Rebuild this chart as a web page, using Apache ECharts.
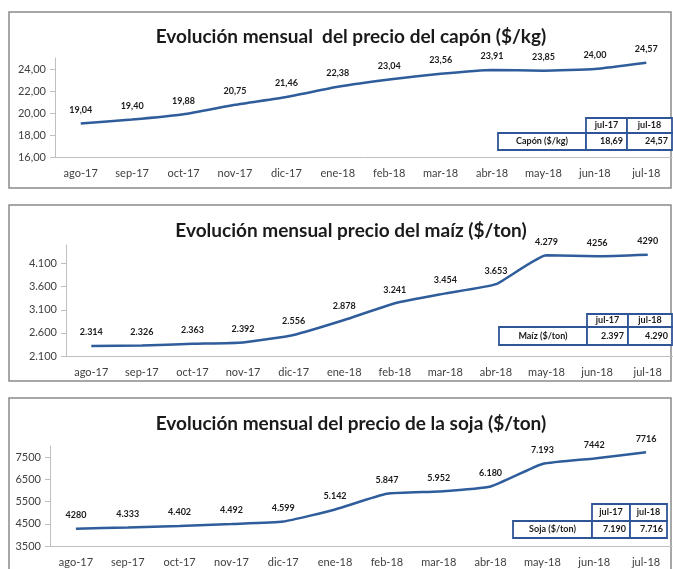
<!DOCTYPE html>
<html>
<head>
<meta charset="utf-8">
<script src="https://cdn.jsdelivr.net/npm/echarts@6/dist/echarts.min.js"></script>
<style>
  html, body { margin: 0; padding: 0; background: #fff; }
  #chart { width: 673px; height: 569px; }
</style>
</head>
<body>
<div id="chart"></div>
<script>
// Months shared by the three panels
const months = ['ago-17', 'sep-17', 'oct-17', 'nov-17', 'dic-17', 'ene-18',
                'feb-18', 'mar-18', 'abr-18', 'may-18', 'jun-18', 'jul-18'];

// Capón ($/kg)
const caponValues = [19.04, 19.40, 19.88, 20.75, 21.46, 22.38, 23.04, 23.56, 23.91, 23.85, 24.00, 24.57];

// Maíz ($/ton)
const maizValues = [2314, 2326, 2363, 2392, 2556, 2878, 3241, 3454, 3653, 4279, 4256, 4290];
const maizLabels = ['2.314', '2.326', '2.363', '2.392', '2.556', '2.878', '3.241', '3.454', '3.653', '4.279', '4256', '4290'];

// Soja ($/ton)
const sojaValues = [4280, 4333, 4402, 4492, 4599, 5142, 5847, 5952, 6180, 7193, 7442, 7716];
const sojaLabels = ['4280', '4.333', '4.402', '4.492', '4.599', '5.142', '5.847', '5.952', '6.180', '7.193', '7442', '7716'];

// Year-on-year summary tables
const tableHeaders = ['jul-17', 'jul-18'];
const caponTable = ['Capón ($/kg)', '18,69', '24,57'];
const maizTable = ['Maíz ($/ton)', '2.397', '4.290'];
const sojaTable = ['Soja ($/ton)', '7.190', '7.716'];

// Panel titles
const titles = [
  'Evolución mensual  del precio del capón ($/kg)',
  'Evolución mensual precio del maíz ($/ton)',
  'Evolución mensual del precio de la soja ($/ton)'
];

const FONT = 'Lato, "Open Sans", sans-serif';
const LINE = '#2f5d9b';
const TABLE_BORDER = '#2f5597';

const chart = echarts.init(document.getElementById('chart'));

function xAxis(gridIndex) {
  return {
    type: 'category', gridIndex, data: months,
    axisLine: { lineStyle: { color: '#bfbfbf', width: 1 } },
    axisTick: { length: 5, lineStyle: { color: '#bfbfbf' } },
    axisLabel: { color: '#404040', fontFamily: FONT, fontSize: 11, margin: 11 }
  };
}

function yAxis(gridIndex, min, max, interval, fmt) {
  return {
    type: 'value', gridIndex, min, max, interval,
    splitLine: { show: false },
    axisLine: { show: true, lineStyle: { color: '#bfbfbf', width: 1 } },
    axisTick: { show: true, length: 5, lineStyle: { color: '#bfbfbf' } },
    axisLabel: { color: '#404040', fontFamily: FONT, fontSize: 11, margin: 9,
                 showMaxLabel: false, formatter: fmt }
  };
}

function lineSeries(idx, values, labelFn) {
  return {
    type: 'line', xAxisIndex: idx, yAxisIndex: idx, data: values,
    smooth: 0.15, showSymbol: true, symbol: 'circle', symbolSize: 0.1,
    itemStyle: { color: LINE },
    lineStyle: { color: LINE, width: 2.5 },
    label: {
      show: true, position: 'top', distance: 9,
      fontFamily: FONT, fontSize: 9, fontWeight: 'bold', color: '#1a1a1a',
      formatter: p => labelFn(p.dataIndex)
    },
    silent: true
  };
}

// Small two-row table: empty corner + headers, then name + two values
function table(x0, x1, x2, x3, y0, y1, y2, row) {
  const els = [];
  const cell = (x, y, w, h) => els.push({
    type: 'rect', shape: { x, y, width: w, height: h },
    style: { fill: '#fff', stroke: TABLE_BORDER, lineWidth: 1.8 }
  });
  const txt = (text, x, y, align) => els.push({
    type: 'text', x, y,
    style: { text, fontFamily: FONT, fontSize: 9, fontWeight: 'bold', fill: '#1a1a1a',
             align, verticalAlign: 'middle' }
  });
  cell(x1, y0, x2 - x1, y1 - y0);
  cell(x2, y0, x3 - x2, y1 - y0);
  cell(x0, y1, x1 - x0, y2 - y1);
  cell(x1, y1, x2 - x1, y2 - y1);
  cell(x2, y1, x3 - x2, y2 - y1);
  txt(tableHeaders[0], (x1 + x2) / 2, (y0 + y1) / 2, 'center');
  txt(tableHeaders[1], (x2 + x3) / 2, (y0 + y1) / 2, 'center');
  txt(row[0], (x0 + x1) / 2, (y1 + y2) / 2, 'center');
  txt(row[1], x2 - 4, (y1 + y2) / 2, 'right');
  txt(row[2], x3 - 4, (y1 + y2) / 2, 'right');
  return els;
}

function frame(y, h) {
  return {
    type: 'rect', shape: { x: 9, y, width: 662, height: h },
    style: { fill: 'none', stroke: '#8a8a8a', lineWidth: 1.5 }, z: -1
  };
}

const titleTops = [22, 216, 409];

chart.setOption({
  animation: false,
  backgroundColor: '#fff',
  title: titles.map((t, i) => ({
    text: t, left: 346, top: titleTops[i], textAlign: 'center',
    textStyle: { fontFamily: FONT, fontSize: 19, fontWeight: 'bold', color: '#1a1a1a' }
  })),
  grid: [
    { left: 55, right: 1, top: 58, height: 99 },
    { left: 66, right: 0, top: 245, height: 111 },
    { left: 50, right: 1, top: 446, height: 100 }
  ],
  xAxis: [xAxis(0), xAxis(1), xAxis(2)],
  yAxis: [
    yAxis(0, 16, 25, 2, v => v.toFixed(2).replace('.', ',')),
    yAxis(1, 2100, 4500, 500, v => String(v).replace(/(\d)(\d{3})$/, '$1.$2')),
    yAxis(2, 3500, 8000, 1000, v => String(v))
  ],
  series: [
    lineSeries(0, caponValues, i => caponValues[i].toFixed(2).replace('.', ',')),
    lineSeries(1, maizValues, i => maizLabels[i]),
    lineSeries(2, sojaValues, i => sojaLabels[i])
  ],
  graphic: [
    frame(12, 176),
    frame(205, 176),
    frame(398, 180),
    ...table(498, 586, 627, 672, 118, 133, 150, caponTable),
    ...table(499, 587, 628, 672, 314, 327, 345, maizTable),
    ...table(513, 592, 630, 667, 504, 521, 538, sojaTable)
  ]
});
</script>
</body>
</html>
